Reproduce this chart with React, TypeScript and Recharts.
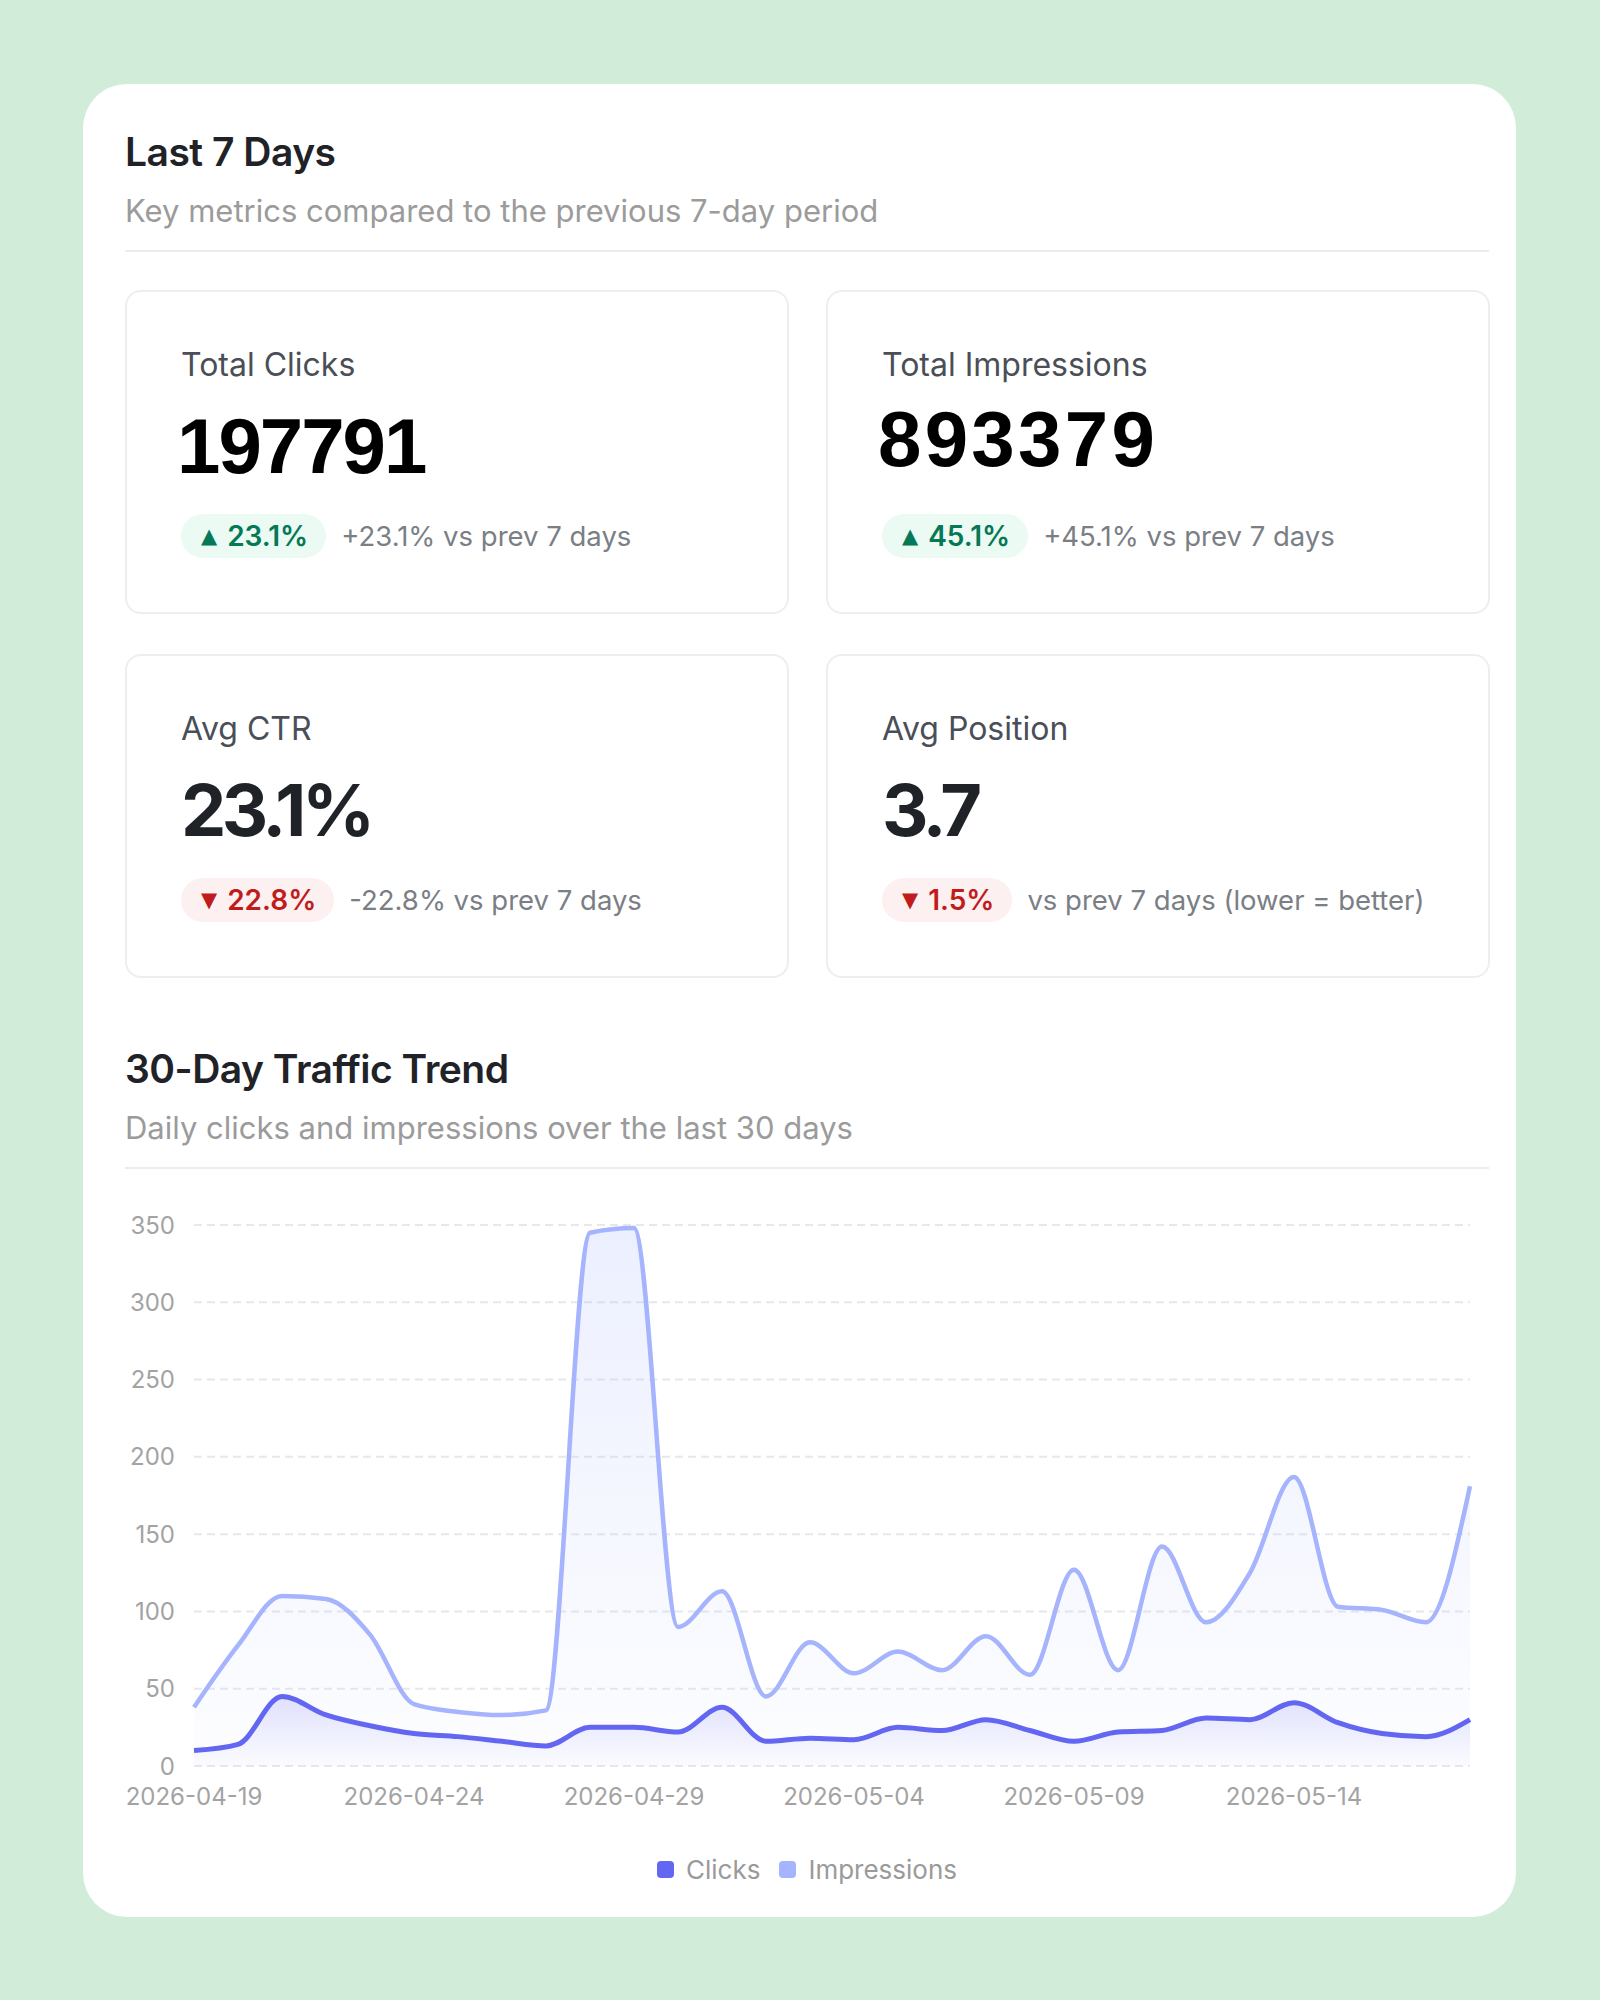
import React from "react";
import { ComposedChart, Area, XAxis, YAxis, CartesianGrid, Legend } from "recharts";

const dates = [
  "2026-04-19", "2026-04-20", "2026-04-21", "2026-04-22", "2026-04-23", "2026-04-24",
  "2026-04-25", "2026-04-26", "2026-04-27", "2026-04-28", "2026-04-29", "2026-04-30",
  "2026-05-01", "2026-05-02", "2026-05-03", "2026-05-04", "2026-05-05", "2026-05-06",
  "2026-05-07", "2026-05-08", "2026-05-09", "2026-05-10", "2026-05-11", "2026-05-12",
  "2026-05-13", "2026-05-14", "2026-05-15", "2026-05-16", "2026-05-17", "2026-05-18",
];
const clicks = [10, 14, 45, 33, 26, 21, 19, 16, 13, 25, 25, 22, 38, 16, 18, 17, 25, 23, 30, 23, 16, 22, 23, 31, 30, 41, 28, 21, 19, 30];
const impressions = [38, 78, 110, 108, 85, 40, 35, 33, 36, 345, 348, 90, 113, 45, 80, 60, 74, 62, 84, 59, 127, 62, 142, 93, 125, 187, 103, 101, 93, 181];

const xTicks = ["2026-04-19", "2026-04-24", "2026-04-29", "2026-05-04", "2026-05-09", "2026-05-14"];
const yTicks = [0, 50, 100, 150, 200, 250, 300, 350];

const metricLabels = ["Total Clicks", "Total Impressions", "Avg CTR", "Avg Position"];
const metricValues = ["197791", "893379", "23.1%", "3.7"];
const metricChanges = ["23.1%", "45.1%", "22.8%", "1.5%"];
const metricUp = [true, true, false, false];
const metricNotes = [
  "+23.1% vs prev 7 days",
  "+45.1% vs prev 7 days",
  "-22.8% vs prev 7 days",
  "vs prev 7 days (lower = better)",
];

const seriesNames = ["Clicks", "Impressions"];

const CLICKS_COLOR = "#6366f1";
const IMPR_COLOR = "#a5b4fc";
const FONT = "Inter, 'Noto Sans', sans-serif";

const chartData = dates.map((d, i) => ({ date: d, clicks: clicks[i], impressions: impressions[i] }));

function MetricCard({ i }: { i: number }) {
  const up = metricUp[i];
  // the two totals come from a counter that uses a plain helvetica-like face
  const counter = i < 2;
  return (
    <div
      style={{
        position: "relative",
        width: 664,
        height: 324,
        border: "2px solid #eceef1",
        borderRadius: 16,
        boxSizing: "border-box",
      }}
    >
      <div style={{ position: "absolute", left: 54, top: 53, fontSize: 32, lineHeight: "40px", color: "#4a4f57" }}>
        {metricLabels[i]}
      </div>
      <div
        style={{
          position: "absolute",
          left: counter ? 50 : 54,
          top: counter ? (i === 0 ? 109 : 102) : 109,
          lineHeight: "90px",
          fontSize: counter ? 78 : 72,
          fontWeight: 700,
          letterSpacing: counter ? (i === 0 ? -2 : 3.3) : -4.5,
          fontFamily: counter ? "'Liberation Sans', Arial, sans-serif" : FONT,
          color: counter ? "#000" : "#1f2328",
        }}
      >
        {metricValues[i]}
      </div>
      <div style={{ position: "absolute", left: 54, top: 222, height: 44, display: "flex", alignItems: "center" }}>
        <div
          style={{
            height: 44,
            borderRadius: 22,
            padding: "0 18px 0 20px",
            display: "flex",
            alignItems: "center",
            background: up ? "#ebfaf2" : "#fdf0f0",
            color: up ? "#047857" : "#c01c1c",
            fontSize: 28,
            fontWeight: 600,
          }}
        >
          <span style={{ fontFamily: "'DejaVu Sans', sans-serif", fontSize: 21, marginRight: 10 }}>
            {up ? "▲" : "▼"}
          </span>
          {metricChanges[i]}
        </div>
        <div style={{ marginLeft: 15, fontSize: 27.5, color: "#7a7e85" }}>{metricNotes[i]}</div>
      </div>
    </div>
  );
}

function LegendContent() {
  const colors = [CLICKS_COLOR, IMPR_COLOR];
  return (
    <div
      style={{
        display: "flex",
        justifyContent: "center",
        alignItems: "center",
        height: 30,
        paddingLeft: 19,
        fontSize: 26,
        color: "#9a9a9a",
      }}
    >
      {seriesNames.map((n, i) => (
        <div key={n} style={{ display: "flex", alignItems: "center", marginRight: i === 0 ? 19 : 0 }}>
          <span style={{ width: 17, height: 17, borderRadius: 4, background: colors[i], marginRight: 12 }} />
          {n}
        </div>
      ))}
    </div>
  );
}

function SectionHead({ title, sub }: { title: string; sub: string }) {
  return (
    <div>
      <div style={{ fontSize: 39, fontWeight: 600, lineHeight: "44px", color: "#1f2328", letterSpacing: -0.5 }}>{title}</div>
      <div style={{ marginTop: 19, fontSize: 31, lineHeight: "36px", color: "#9b9b9b" }}>{sub}</div>
      <div style={{ marginTop: 21, height: 2, background: "#eaecef" }} />
    </div>
  );
}

export default function App() {
  return (
    <div
      style={{
        position: "absolute",
        left: 0,
        top: 0,
        width: 1600,
        height: 2000,
        background: "#d1ecd9",
        fontFamily: FONT,
      }}
    >
      <div
        style={{
          position: "absolute",
          left: 83,
          top: 84,
          width: 1433,
          height: 1833,
          borderRadius: 44,
          background: "#fff",
        }}
      >
        <div style={{ position: "absolute", left: 42, top: 46, width: 1364 }}>
          <SectionHead title="Last 7 Days" sub="Key metrics compared to the previous 7-day period" />
          <div
            style={{
              marginTop: 38,
              display: "grid",
              gridTemplateColumns: "664px 664px",
              columnGap: 37,
              rowGap: 40,
            }}
          >
            {metricLabels.map((_, i) => (
              <MetricCard key={i} i={i} />
            ))}
          </div>
        </div>

        <div style={{ position: "absolute", left: 42, top: 963, width: 1364 }}>
          <SectionHead title="30-Day Traffic Trend" sub="Daily clicks and impressions over the last 30 days" />
        </div>

        <div style={{ position: "absolute", left: 42, top: 1106 }}>
          <ComposedChart width={1364} height={700} data={chartData} margin={{ top: 35, right: 19, left: 0, bottom: 6 }}>
            <defs>
              <linearGradient id="imprFill" x1="0" y1="0" x2="0" y2="1">
                <stop offset="0%" stopColor={IMPR_COLOR} stopOpacity={0.35} />
                <stop offset="100%" stopColor={IMPR_COLOR} stopOpacity={0.04} />
              </linearGradient>
              <linearGradient id="clickFill" x1="0" y1="0" x2="0" y2="1">
                <stop offset="0%" stopColor={CLICKS_COLOR} stopOpacity={0.3} />
                <stop offset="100%" stopColor={CLICKS_COLOR} stopOpacity={0.02} />
              </linearGradient>
            </defs>
            <CartesianGrid vertical={false} stroke="#e6e8ee" strokeWidth={2} strokeDasharray="8 5" />
            <XAxis
              dataKey="date"
              ticks={xTicks}
              interval={0}
              height={60}
              tickLine={false}
              axisLine={false}
              tickMargin={16}
              tick={{ fill: "#a3a3a3", fontSize: 24 }}
            />
            <YAxis
              domain={[0, 350]}
              ticks={yTicks}
              interval={0}
              width={69}
              tickLine={false}
              axisLine={false}
              tickMargin={13}
              tick={{ fill: "#a3a3a3", fontSize: 24 }}
            />
            <Legend verticalAlign="bottom" wrapperStyle={{ paddingTop: 28 }} content={() => <LegendContent />} />
            <Area
              type="monotone"
              dataKey="impressions"
              name={seriesNames[1]}
              stroke={IMPR_COLOR}
              strokeWidth={4.5}
              fill="url(#imprFill)"
              dot={false}
              activeDot={false}
              isAnimationActive={false}
            />
            <Area
              type="monotone"
              dataKey="clicks"
              name={seriesNames[0]}
              stroke={CLICKS_COLOR}
              strokeWidth={5}
              fill="url(#clickFill)"
              dot={false}
              activeDot={false}
              isAnimationActive={false}
            />
          </ComposedChart>
        </div>
      </div>
    </div>
  );
}
